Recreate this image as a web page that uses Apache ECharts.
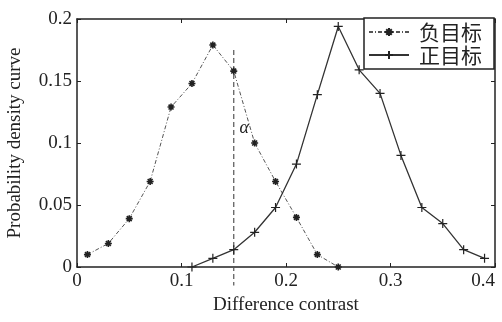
<!DOCTYPE html>
<html>
<head>
<meta charset="utf-8">
<script src="https://cdn.jsdelivr.net/npm/echarts@6/dist/echarts.min.js"></script>
<style>
  html, body { margin: 0; padding: 0; background: #fff; }
  #chart { width: 502px; height: 322px; }
</style>
</head>
<body>
<div id="chart"></div>
<script>
// negative target (dash-dot, star markers)
const negX = [0.01, 0.03, 0.05, 0.07, 0.09, 0.11, 0.13, 0.15, 0.17, 0.19, 0.21, 0.23, 0.25];
const negY = [0.010, 0.019, 0.039, 0.069, 0.129, 0.148, 0.179, 0.158, 0.100, 0.069, 0.040, 0.010, 0.000];
// positive target (solid, plus markers)
const posX = [0.11, 0.13, 0.15, 0.17, 0.19, 0.21, 0.23, 0.25, 0.27, 0.29, 0.31, 0.33, 0.35, 0.37, 0.39];
const posY = [0.000, 0.007, 0.014, 0.028, 0.048, 0.083, 0.139, 0.194, 0.159, 0.140, 0.090, 0.048, 0.035, 0.014, 0.007];
// threshold line
const alphaX = 0.15;
const alphaSpan = [0.175, -0.015];
const alphaLabelAt = [0.16, 0.112];

const serif = '"Liberation Serif", "DejaVu Serif", serif';
const cjk = '"Noto Sans CJK SC", sans-serif';

const PLUS = 'path://M0,5L10,5M5,0L5,10';
const STAR = 'path://M0,5L10,5M5,0L5,10M1.5,1.5L8.5,8.5M8.5,1.5L1.5,8.5';

const boxLine = { show: true, onZero: false, lineStyle: { color: '#222', width: 1.5 } };
const tickIn = { show: true, inside: true, length: 4, lineStyle: { color: '#222', width: 1 } };

const chart = echarts.init(document.getElementById('chart'));
chart.setOption({
  animation: false,
  backgroundColor: '#fff',
  grid: { left: 77, right: 7, top: 19, bottom: 55, outerBoundsMode: 'none' },
  legend: {
    orient: 'vertical',
    right: 8,
    top: 18,
    padding: [3, 12, 3, 4],
    itemGap: 1,
    itemWidth: 40,
    itemHeight: 10,
    borderColor: '#222',
    borderWidth: 1.5,
    borderRadius: 0,
    backgroundColor: '#fff',
    textStyle: { fontFamily: cjk, fontSize: 21, lineHeight: 22, color: '#222', padding: [0, 0, 0, 5] },
    data: ['负目标', '正目标'],
  },
  xAxis: [
    {
      type: 'value', min: 0, max: 0.4, interval: 0.1,
      axisLine: boxLine, axisTick: tickIn, splitLine: { show: false },
      axisLabel: { fontFamily: serif, fontSize: 19, color: '#222', margin: 5, alignMaxLabel: 'right' },
      name: 'Difference contrast', nameLocation: 'middle', nameGap: 23,
      nameTextStyle: { fontFamily: serif, fontSize: 19, color: '#222' },
    },
    {
      type: 'value', min: 0, max: 0.4, interval: 0.1, position: 'top',
      axisLine: boxLine, axisTick: tickIn, axisLabel: { show: false }, splitLine: { show: false },
    },
  ],
  yAxis: [
    {
      type: 'value', min: 0, max: 0.2, interval: 0.05,
      axisLine: boxLine, axisTick: tickIn, splitLine: { show: false },
      axisLabel: { fontFamily: serif, fontSize: 19, color: '#222', margin: 5 },
      name: 'Probability density curve', nameLocation: 'middle', nameGap: 52,
      nameTextStyle: { fontFamily: serif, fontSize: 19, color: '#222' },
    },
    {
      type: 'value', min: 0, max: 0.2, interval: 0.05, position: 'right',
      axisLine: boxLine, axisTick: tickIn, axisLabel: { show: false }, splitLine: { show: false },
    },
  ],
  series: [
    {
      name: '负目标',
      type: 'line',
      data: negX.map((x, i) => [x, negY[i]]),
      symbol: STAR,
      symbolSize: 7,
      itemStyle: { color: '#222', borderColor: '#222', borderWidth: 1.6 },
      lineStyle: { color: '#555', width: 1, type: [4, 2, 1, 2] },
      z: 3,
    },
    {
      name: '正目标',
      type: 'line',
      data: posX.map((x, i) => [x, posY[i]]),
      symbol: PLUS,
      symbolSize: 9,
      itemStyle: { color: '#222', borderColor: '#222', borderWidth: 1.2 },
      lineStyle: { color: '#333', width: 1.3, type: 'solid' },
      z: 3,
    },
    {
      name: 'alpha',
      type: 'line',
      clip: false,
      symbol: 'none',
      data: alphaSpan.map((y) => [alphaX, y]),
      lineStyle: { color: '#555', width: 1.2, type: [5, 3] },
      markPoint: {
        symbol: 'circle',
        symbolSize: 1,
        itemStyle: { color: 'transparent' },
        data: [{ coord: alphaLabelAt }],
        label: {
          show: true,
          position: 'inside',
          formatter: 'α',
          fontFamily: serif,
          fontStyle: 'italic',
          fontSize: 18,
          color: '#222',
        },
      },
      z: 2,
    },
  ],
});
</script>
</body>
</html>
